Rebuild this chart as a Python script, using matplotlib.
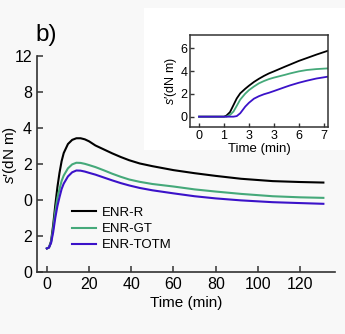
import matplotlib
matplotlib.use("Agg")
import matplotlib.pyplot as plt
from matplotlib.patches import Rectangle

plt.rcParams['font.family'] = ['Liberation Sans', 'DejaVu Sans']
plt.rcParams['mathtext.fontset'] = 'custom'
plt.rcParams['mathtext.it'] = 'Liberation Sans:italic'
plt.rcParams['mathtext.rm'] = 'Liberation Sans'

# main curves: torque s' vs time (min)
t_main = [0, 1, 2, 3, 4, 5, 6, 7, 8, 10, 12, 14, 16, 18, 20, 23, 27, 31, 35,
          39, 44, 50, 60, 70, 80, 92, 107, 120, 131]
s_enr_r = [-2.7, -2.65, -2.3, -1.4, -0.3, 0.7, 1.5, 2.15, 2.6, 3.1, 3.33, 3.42,
           3.42, 3.36, 3.25, 3.02, 2.8, 2.58, 2.38, 2.2, 2.02, 1.87, 1.65,
           1.48, 1.33, 1.17, 1.04, 0.99, 0.96]
s_enr_gt = [-2.7, -2.65, -2.35, -1.6, -0.65, 0.1, 0.6, 1.05, 1.35, 1.75, 1.97,
            2.06, 2.05, 2.0, 1.93, 1.82, 1.64, 1.45, 1.28, 1.13, 1.0, 0.88,
            0.74, 0.58, 0.46, 0.33, 0.2, 0.14, 0.11]
s_enr_totm = [-2.7, -2.65, -2.4, -1.8, -1.0, -0.35, 0.15, 0.6, 0.9, 1.3, 1.53,
              1.63, 1.62, 1.57, 1.5, 1.4, 1.24, 1.08, 0.93, 0.8, 0.66, 0.53,
              0.36, 0.2, 0.08, -0.03, -0.13, -0.18, -0.22]

main_yticks = [-4, -2, 0, 2, 4, 6, 8]
main_ylabels = ['0', '2', '0', '2', '4', '8', '12']
main_xticks = [0, 20, 40, 60, 80, 100, 120]

# inset: first minutes
t_ins = [0, 1.0, 1.1, 1.24, 1.38, 1.51, 1.65, 1.85, 2.0, 2.2, 2.4, 2.6, 2.8,
         3.0, 3.45, 3.65, 4.0, 4.32, 4.7, 5.15]
ins_r = [0, 0, 0.1, 0.4, 1.02, 1.6, 2.05, 2.45, 2.72, 3.05, 3.33, 3.58, 3.8,
         3.98, 4.4, 4.58, 4.9, 5.15, 5.45, 5.78]
ins_gt = [0, 0, 0, 0.15, 0.45, 0.95, 1.5, 2.02, 2.33, 2.65, 2.93, 3.13, 3.3,
          3.43, 3.68, 3.8, 3.98, 4.1, 4.18, 4.24]
ins_totm = [0, 0, 0, 0, 0, 0.05, 0.3, 0.88, 1.22, 1.58, 1.8, 1.97, 2.1, 2.25,
            2.6, 2.75, 2.98, 3.16, 3.35, 3.51]
ins_xticks = [0, 1, 2, 3, 4, 5]
ins_xlabels = ['0', '1', '3', '3', '6', '7']
ins_yticks = [0, 2, 4, 6]

names = ['ENR-R', 'ENR-GT', 'ENR-TOTM']
colors = ['#000000', '#45a97a', '#3b12c9']
ylab = "$s$′(dN m)"

fig = plt.figure(figsize=(3.45, 3.34), dpi=100, facecolor='#f8f8f8')
fig.patches.append(Rectangle((144 / 345, 1 - 150 / 334), 201 / 345, 142 / 334,
                             transform=fig.transFigure, facecolor='white',
                             edgecolor='none', zorder=-1))

ax = fig.add_axes([0.107, 0.186, 0.864, 0.647])
ax.set_facecolor('none')
for ys, name, c in zip([s_enr_r, s_enr_gt, s_enr_totm], names, colors):
    ax.plot(t_main, ys, color=c, lw=1.5, label=name)
ax.set_xlim(-4.7, 136.5)
ax.set_ylim(-4, 8)
ax.set_yticks(main_yticks)
ax.set_yticklabels(main_ylabels)
ax.set_xticks(main_xticks)
for side in ['top', 'right']:
    ax.spines[side].set_visible(False)
for side in ['left', 'bottom']:
    ax.spines[side].set_linewidth(1.2)
    ax.spines[side].set_color('#333333')
ax.tick_params(direction='in', length=4, width=1.1, labelsize=11.5, color='#333333')
ax.set_xlabel('Time (min)', fontsize=11, labelpad=3)
ax.set_ylabel(ylab, fontsize=11)
ax.yaxis.set_label_coords(-0.06, 0.54)
ax.legend(loc='lower left', bbox_to_anchor=(0.117, 0.095), frameon=False,
          fontsize=9.5, handlelength=1.85, handletextpad=0.45, labelspacing=0.3,
          borderpad=0, borderaxespad=0)
fig.text(35 / 345, 1 - 35 / 334, 'b)', fontsize=17.5, ha='left', va='center')

ins = fig.add_axes([0.551, 0.619, 0.399, 0.276])
for ys, c in zip([ins_r, ins_gt, ins_totm], colors):
    ins.plot(t_ins, ys, color=c, lw=1.3)
ins.set_xlim(-0.36, 5.16)
ins.set_ylim(-0.93, 7.17)
ins.set_xticks(ins_xticks)
ins.set_xticklabels(ins_xlabels)
ins.set_yticks(ins_yticks)
for sp in ins.spines.values():
    sp.set_linewidth(1.1)
    sp.set_color('#333333')
ins.tick_params(direction='in', length=3, width=1, labelsize=9, pad=2, color='#333333')
ins.set_xlabel('Time (min)', fontsize=9.5, labelpad=1)
ins.set_ylabel(ylab, fontsize=9, labelpad=1)

fig.savefig('out.png', dpi=100, facecolor=fig.get_facecolor())
